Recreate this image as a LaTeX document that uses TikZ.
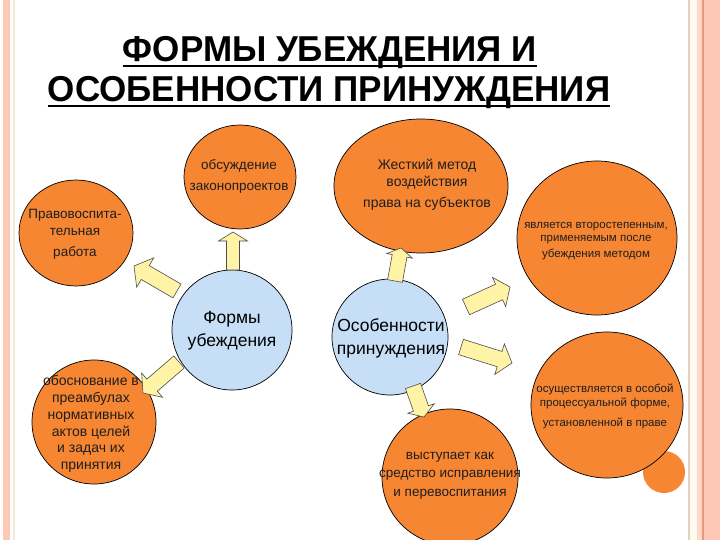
\documentclass[tikz,border=0pt]{standalone}
\usepackage{fontspec}
\setmainfont{Liberation Sans}
\usetikzlibrary{calc,shapes.geometric}
\definecolor{orng}{RGB}{246,134,50}
\definecolor{lblue}{RGB}{198,222,246}
\definecolor{ayel}{RGB}{255,243,165}
\definecolor{txtc}{RGB}{30,30,30}
\definecolor{pinkA}{RGB}{253,200,182}
\definecolor{pinkL}{RGB}{250,218,205}
\definecolor{salmon}{RGB}{240,150,120}
\definecolor{tanl}{RGB}{228,208,192}
\definecolor{cream}{RGB}{255,250,238}
\definecolor{beige}{RGB}{246,232,212}
\tikzset{
  circ/.style={ellipse, draw=black, line width=0.7pt, fill=orng, inner sep=0pt},
  bcirc/.style={circ, fill=lblue},
  lbl/.style={align=center, text=txtc, inner sep=0pt},
  blbl/.style={align=center, text=black, inner sep=0pt},
  barrow/.style={fill=ayel, draw=black!70, line width=0.6pt, line join=miter},
  ttl/.style={font=\fontsize{36}{40}\selectfont\bfseries, inner sep=0pt, text=black},
}
\newcommand\blockarrow[5]{%
  \coordinate (#1-h) at ($(#2)!#5!(#1)$);
  \draw[barrow] ($(#1)!#3!90:(#2)$) -- ($(#1-h)!#3!-90:(#1)$) -- ($(#1-h)!#4!-90:(#1)$)
    -- (#2) -- ($(#1-h)!#4!90:(#1)$) -- ($(#1-h)!#3!90:(#1)$) -- ($(#1)!#3!-90:(#2)$) -- cycle;
}
\begin{document}
\begin{tikzpicture}[x=1pt,y=-1pt]
\useasboundingbox (0,0) rectangle (720,540);
\fill[white] (0,0) rectangle (720,540);
% borders
\fill[pinkA] (3,0) rectangle (9.5,540);
\fill[beige] (13,0) rectangle (14.5,540);
\fill[tanl] (688,0) rectangle (690,540);
\fill[cream] (690,0) rectangle (697,540);
\fill[pinkL] (697,0) rectangle (702,540);
\fill[salmon] (702,0) rectangle (703.5,540);
\fill[pinkA] (703.5,0) rectangle (720,540);

% title
\node[ttl, anchor=base] (t1) at (330,62) {\scalebox{0.973}[1]{ФОРМЫ УБЕЖДЕНИЯ И}};
\node[ttl, anchor=base] (t2) at (329,102) {\scalebox{0.973}[1]{ОСОБЕННОСТИ ПРИНУЖДЕНИЯ}};
\draw[line width=2.4pt] ([yshift=-4pt]t1.base west) -- ([yshift=-4pt]t1.base east);
\draw[line width=2.4pt] ([yshift=-4pt]t2.base west) -- ([yshift=-4pt]t2.base east);

% circles
\node[ellipse, fill=orng, inner sep=0pt, minimum width=42pt, minimum height=42pt] (dot) at (664,472) {};
\node[circ, minimum width=112pt, minimum height=104pt] (obs) at (240,177) {};
\node[circ, minimum width=114pt, minimum height=106pt] (prav) at (76,233) {};
\node[bcirc, minimum width=120pt, minimum height=120pt] (forms) at (232,330) {};
\node[bcirc, minimum width=116pt, minimum height=116pt] (osob) at (390,337) {};
\node[circ, minimum width=174pt, minimum height=134pt] (zhest) at (421,186) {};
\node[circ, minimum width=160pt, minimum height=154pt] (yavl) at (597,238) {};
\node[circ, minimum width=124pt, minimum height=124pt] (obosn) at (94,422) {};
\node[circ, minimum width=136pt, minimum height=136pt] (vyst) at (450,477) {};
\node[circ, minimum width=152pt, minimum height=146pt] (osush) at (607,405) {};

% arrows
\coordinate (a1s) at (233,270); \coordinate (a1e) at (233,232);
\coordinate (a2s) at (177,291); \coordinate (a2e) at (134,266);
\coordinate (a3s) at (179,362); \coordinate (a3e) at (143,393);
\coordinate (a4s) at (395,281); \coordinate (a4e) at (401,248);
\coordinate (a5s) at (466,307); \coordinate (a5e) at (510,287);
\coordinate (a6s) at (461,347); \coordinate (a6e) at (512,363);
\coordinate (a7s) at (413,386); \coordinate (a7e) at (424,417);
\blockarrow{a1s}{a1e}{6.5pt}{14.5pt}{9pt}
\blockarrow{a2s}{a2e}{8pt}{17pt}{13pt}
\blockarrow{a3s}{a3e}{8pt}{16pt}{12pt}
\blockarrow{a4s}{a4e}{7.5pt}{13pt}{8pt}
\blockarrow{a5s}{a5e}{8.5pt}{16pt}{12pt}
\blockarrow{a6s}{a6e}{8pt}{16pt}{13pt}
\blockarrow{a7s}{a7e}{8pt}{14pt}{9pt}

% texts
\node[lbl, font=\fontsize{13.5}{21}\selectfont] (obs-t) at (239,176.5) {обсуждение\\законопроектов};
\node[lbl, font=\fontsize{13.5}{17}\selectfont] (prav-t) at (75,234) {Правовоспита-\\тельная\\[4pt]работа};
\node[blbl, font=\fontsize{17.5}{23}\selectfont] (forms-t) at (232,330.5) {Формы\\убеждения};
\node[blbl, font=\fontsize{17.5}{23}\selectfont] (osob-t) at (391,338) {Особенности\\принуждения};
\node[lbl, font=\fontsize{14}{17}\selectfont] (zhest-t) at (427,185) {Жесткий метод\\воздействия\\[4pt]права на субъектов};
\node[lbl, font=\fontsize{11.5}{12.5}\selectfont] (yavl-t) at (596,241) {является второстепенным,\\применяемым после\\[3.5pt]убеждения методом};
\node[lbl, font=\fontsize{14}{16.8}\selectfont] (obosn-t) at (91,424) {обоснование в\\преамбулах\\нормативных\\актов целей\\и задач их\\принятия};
\node[lbl, font=\fontsize{13.5}{18.5}\selectfont] (vyst-t) at (450,475.5) {выступает как\\средство исправления\\и перевоспитания};
\node[lbl, font=\fontsize{11.5}{14}\selectfont] (osush-t) at (605,406) {осуществляется в особой\\процессуальной форме,\\[6pt]установленной в праве};
\end{tikzpicture}
\end{document}
